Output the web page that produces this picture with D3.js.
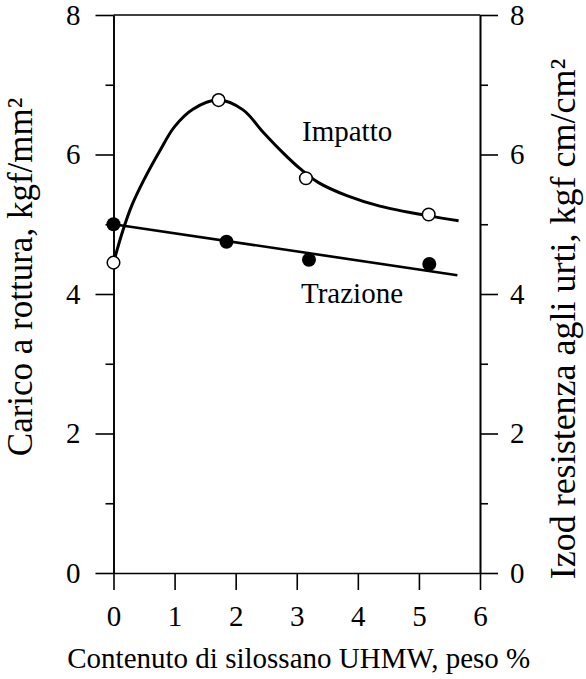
<!DOCTYPE html>
<html>
<head>
<meta charset="utf-8">
<script src="https://cdn.jsdelivr.net/npm/d3@7"></script>
<style>
  body { margin: 0; background: #fff; }
  svg text { font-family: "Liberation Serif", "DejaVu Serif", "Noto Serif", serif !important; fill: #000; }
</style>
</head>
<body>
<svg width="586" height="679"></svg>
<script>
// data
const xTicks = [0, 1, 2, 3, 4, 5, 6];
const yMajor = [0, 2, 4, 6, 8];
const yMinor = [1, 3, 5, 7];

// Trazione (filled dots) + fitted straight line
const trazioneX = [0, 1.85, 3.2, 5.17];
const trazioneY = [5.0, 4.75, 4.49, 4.43];
const trazioneLineX = [0, 5.63];
const trazioneLineY = [5.0, 4.27];

// Impatto (open dots) + hand drawn smooth curve
const impattoX = [0, 1.72, 3.15, 5.16];
const impattoY = [4.45, 6.78, 5.66, 5.14];
const impattoCurveX = [0, 0.15, 0.3, 0.5, 0.75, 1.0, 1.3, 1.72, 2.12, 2.45, 2.78, 3.05, 3.35, 3.82, 4.36, 5.16, 5.65];
const impattoCurveY = [4.45, 4.9, 5.27, 5.64, 6.04, 6.4, 6.65, 6.78, 6.64, 6.32, 6.02, 5.8, 5.6, 5.41, 5.26, 5.12, 5.05];

var svg = d3.select("svg");
var FONT = "'Liberation Serif', 'DejaVu Serif', serif";

// plot box
var x = d3.scaleLinear().domain([0, 6]).range([113.5, 480]);
var y = d3.scaleLinear().domain([0, 8]).range([573, 15]);

function styleAxis(g) {
    g.attr("font-family", FONT).attr("font-size", 29);
    g.selectAll("path, line").attr("stroke", "#000").attr("stroke-width", 1.6);
    g.selectAll("text").attr("font-size", 29).style("font-family", FONT);
}

// top border
svg.append("line")
    .attr("x1", x(0)).attr("x2", x(6))
    .attr("y1", y(8)).attr("y2", y(8))
    .attr("stroke", "#000").attr("stroke-width", 1.6);

// bottom axis
svg.append("g")
    .attr("transform", `translate(0, ${y(0)})`)
    .call(d3.axisBottom(x).tickValues(xTicks).tickFormat(d3.format("d")).tickSize(17).tickSizeOuter(0).tickPadding(15))
    .call(styleAxis);

// left axis (major + minor)
svg.append("g")
    .attr("transform", `translate(${x(0)}, 0)`)
    .call(d3.axisLeft(y).tickValues(yMajor).tickFormat(d3.format("d")).tickSize(18).tickSizeOuter(0).tickPadding(15))
    .call(styleAxis);
svg.append("g")
    .attr("transform", `translate(${x(0)}, 0)`)
    .call(d3.axisLeft(y).tickValues(yMinor).tickFormat("").tickSize(8).tickSizeOuter(0))
    .call(styleAxis);

// right axis (major + minor)
svg.append("g")
    .attr("transform", `translate(${x(6)}, 0)`)
    .call(d3.axisRight(y).tickValues(yMajor).tickFormat(d3.format("d")).tickSize(18).tickSizeOuter(0).tickPadding(12))
    .call(styleAxis);
svg.append("g")
    .attr("transform", `translate(${x(6)}, 0)`)
    .call(d3.axisRight(y).tickValues(yMinor).tickFormat("").tickSize(8).tickSizeOuter(0))
    .call(styleAxis);

// axis titles
svg.append("text")
    .attr("x", (x(0) + x(6)) / 2 + 2)
    .attr("y", 668)
    .attr("text-anchor", "middle")
    .attr("font-size", 29)
    .style("font-family", FONT)
    .text("Contenuto di silossano UHMW, peso %");

svg.append("text")
    .attr("transform", "translate(32, 277) rotate(-90)")
    .attr("text-anchor", "middle")
    .attr("font-size", 35)
    .style("font-family", FONT)
    .text("Carico a rottura, kgf/mm²");

svg.append("text")
    .attr("transform", "translate(575, 319) rotate(-90)")
    .attr("text-anchor", "middle")
    .attr("font-size", 36)
    .style("font-family", FONT)
    .text("Izod resistenza agli urti, kgf cm/cm²");

// lines
var line = d3.line().x(d => x(d[0])).y(d => y(d[1]));

svg.append("path")
    .datum(d3.zip(trazioneLineX, trazioneLineY))
    .attr("fill", "none")
    .attr("stroke", "#000")
    .attr("stroke-width", 2.6)
    .attr("d", line);

svg.append("path")
    .datum(d3.zip(impattoCurveX, impattoCurveY))
    .attr("fill", "none")
    .attr("stroke", "#000")
    .attr("stroke-width", 3)
    .attr("d", line.curve(d3.curveCatmullRom.alpha(0.5)));

// markers
svg.append("g")
    .selectAll("circle")
    .data(d3.zip(trazioneX, trazioneY))
    .enter().append("circle")
    .attr("cx", d => x(d[0]))
    .attr("cy", d => y(d[1]))
    .attr("r", 7)
    .attr("fill", "#000");

svg.append("g")
    .selectAll("circle")
    .data(d3.zip(impattoX, impattoY))
    .enter().append("circle")
    .attr("cx", d => x(d[0]))
    .attr("cy", d => y(d[1]))
    .attr("r", 6.3)
    .attr("fill", "#fff")
    .attr("stroke", "#000")
    .attr("stroke-width", 1.5);

// series labels
svg.append("text")
    .attr("x", 302).attr("y", 140.5)
    .attr("font-size", 29)
    .style("font-family", FONT)
    .text("Impatto");

svg.append("text")
    .attr("x", 301).attr("y", 303)
    .attr("font-size", 29)
    .style("font-family", FONT)
    .text("Trazione");
</script>
</body>
</html>
